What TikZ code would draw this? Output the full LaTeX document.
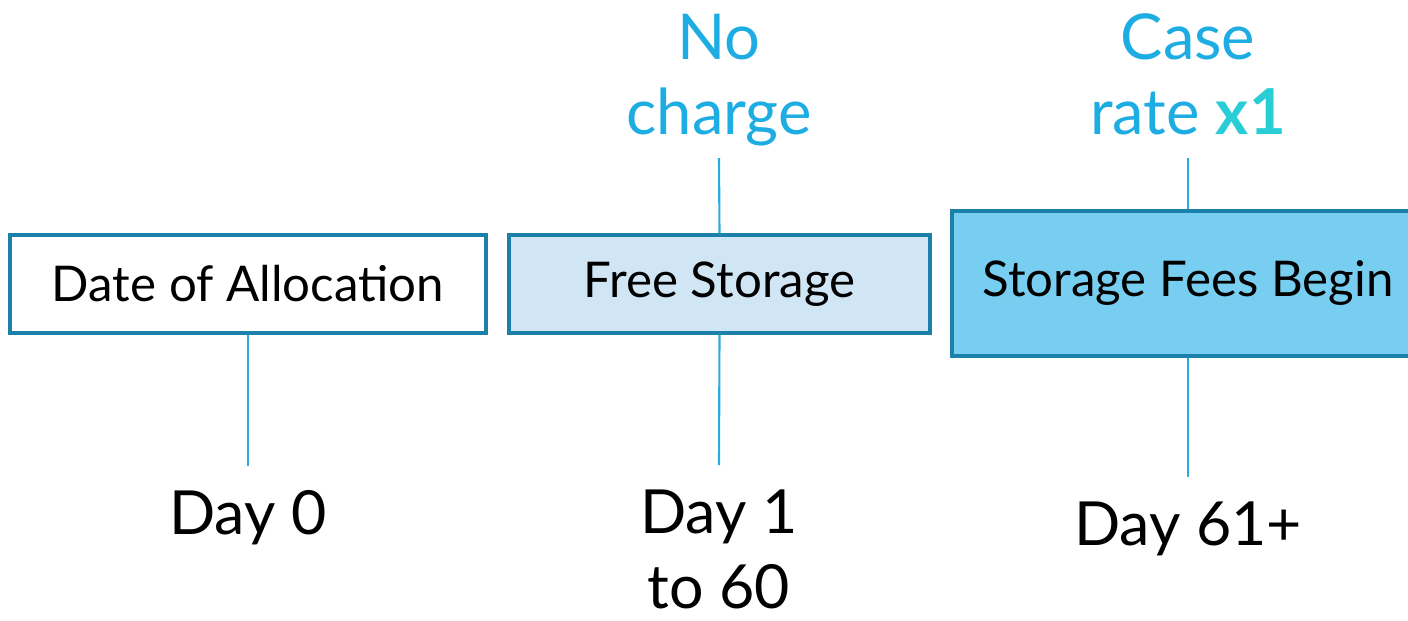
\documentclass[tikz,border=0pt]{standalone}
\usepackage{fontspec}
\setmainfont{Lato}
\usetikzlibrary{positioning}
\definecolor{boxline}{HTML}{1B80AA}
\definecolor{connline}{HTML}{2AACE2}
\definecolor{notetext}{HTML}{1EADE3}
\definecolor{ratetext}{HTML}{29CDD6}
\definecolor{freefill}{HTML}{D1E6F4}
\definecolor{feefill}{HTML}{77CEF0}
\begin{document}
\begin{tikzpicture}[x=0.01cm,y=-0.01cm,
	stage/.style={draw=boxline,line width=1.1pt,minimum height=0.98cm,font=\fontsize{14}{17}\selectfont},
	day/.style={anchor=north,inner sep=0.24cm,align=center,font=\fontsize{17.3}{21.3}\selectfont},
	note/.style={anchor=south,inner sep=0.13cm,text depth=0.1cm,align=center,text=notetext,font=\fontsize{18}{21.3}\selectfont},
	conn/.style={draw=connline,line width=0.6pt}]

	\clip (0,0) rectangle (1408,620);

	\node(b_1) [stage, minimum width=4.76cm] at (248,284) {Date of Allocation};
	\node(b_2) [stage, fill=freefill, minimum width=4.21cm] at (719.5,284) {Free Storage};
	\node(b_3) [stage, fill=feefill, minimum width=4.72cm, minimum height=1.45cm] at (1188,283.5) {Storage Fees Begin};

	\node(t_2) [note] at (719,158) {No\\charge};
	\node(t_3) [note] at (1188,158) {Case\\rate \textcolor{ratetext}{\bfseries x1}};

	\node(d_1) [day] at (248,466) {Day 0};
	\node(d_2) [day] at (719,465) {Day 1\\to 60};
	\node(d_3) [day] at (1188,477) {Day 61+};

	\draw[conn] (t_2.south) -- (b_2.north);
	\draw[conn] (t_3.south) -- (b_3.north);
	\draw[conn] (b_1.south) -- (d_1.north);
	\draw[conn] (b_2.south) -- (d_2.north);
	\draw[conn] (b_3.south) -- (d_3.north);

\end{tikzpicture}
\end{document}
